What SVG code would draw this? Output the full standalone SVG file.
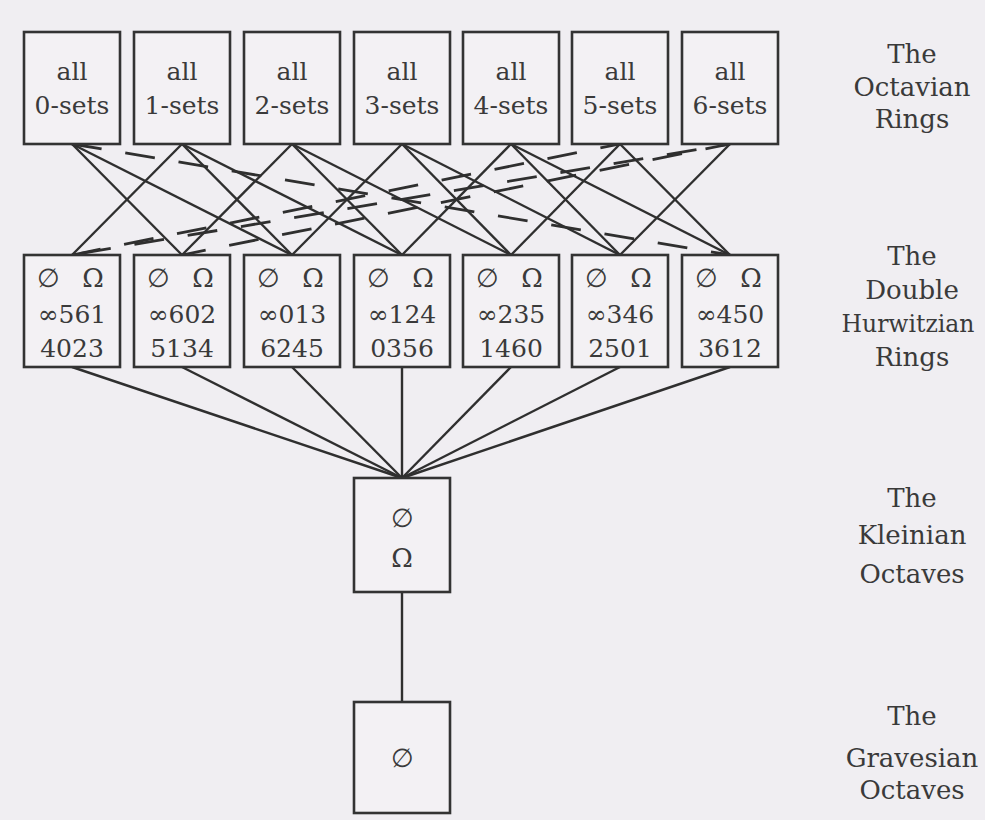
<svg xmlns="http://www.w3.org/2000/svg" width="985" height="820" viewBox="0 0 985 820" font-family="DejaVu Serif, serif">
<style>
.bg{fill:#f0eef2}
.box{fill:#f3f1f4;stroke:#333;stroke-width:2.6}
text{fill:#3a3a3a;text-anchor:middle}
.t{font-size:25px}
.sym{font-size:26px}
.lab{font-size:26px}
.e{stroke:#2f2f2f;stroke-width:2.4;fill:none}
.d{stroke:#2f2f2f;stroke-width:2.8;fill:none;stroke-dasharray:30 24}
</style>
<rect class="bg" x="0" y="0" width="985" height="820"/>
<g id="connectors">
<line class="e" x1="72" y1="144" x2="182" y2="255"/>
<line class="e" x1="72" y1="144" x2="292" y2="255"/>
<line class="e" x1="182" y1="144" x2="72" y2="255"/>
<line class="e" x1="182" y1="144" x2="292" y2="255"/>
<line class="e" x1="182" y1="144" x2="402" y2="255"/>
<line class="e" x1="292" y1="144" x2="182" y2="255"/>
<line class="e" x1="292" y1="144" x2="402" y2="255"/>
<line class="e" x1="292" y1="144" x2="511" y2="255"/>
<line class="e" x1="402" y1="144" x2="292" y2="255"/>
<line class="e" x1="402" y1="144" x2="511" y2="255"/>
<line class="e" x1="402" y1="144" x2="620" y2="255"/>
<line class="e" x1="511" y1="144" x2="402" y2="255"/>
<line class="e" x1="511" y1="144" x2="620" y2="255"/>
<line class="e" x1="511" y1="144" x2="730" y2="255"/>
<line class="e" x1="620" y1="144" x2="511" y2="255"/>
<line class="e" x1="620" y1="144" x2="730" y2="255"/>
<line class="e" x1="730" y1="144" x2="620" y2="255"/>
<line class="d" x1="72" y1="144" x2="730" y2="255"/>
<line class="d" x1="620" y1="144" x2="72" y2="255" stroke-dashoffset="10"/>
<line class="d" x1="730" y1="144" x2="72" y2="255" stroke-dashoffset="20"/>
<line class="d" x1="730" y1="144" x2="182" y2="255" stroke-dashoffset="5"/>
<line class="e" x1="72" y1="367" x2="402" y2="478"/>
<line class="e" x1="182" y1="367" x2="402" y2="478"/>
<line class="e" x1="292" y1="367" x2="402" y2="478"/>
<line class="e" x1="402" y1="367" x2="402" y2="478"/>
<line class="e" x1="511" y1="367" x2="402" y2="478"/>
<line class="e" x1="620" y1="367" x2="402" y2="478"/>
<line class="e" x1="730" y1="367" x2="402" y2="478"/>
<line class="e" x1="402" y1="592" x2="402" y2="702"/>
</g>
<g id="oct0"><rect class="box" x="24" y="32" width="96" height="112"/><text class="t" x="72" y="80">all</text><text class="t" x="72" y="114">0-sets</text></g>
<g id="oct1"><rect class="box" x="134" y="32" width="96" height="112"/><text class="t" x="182" y="80">all</text><text class="t" x="182" y="114">1-sets</text></g>
<g id="oct2"><rect class="box" x="244" y="32" width="96" height="112"/><text class="t" x="292" y="80">all</text><text class="t" x="292" y="114">2-sets</text></g>
<g id="oct3"><rect class="box" x="354" y="32" width="96" height="112"/><text class="t" x="402" y="80">all</text><text class="t" x="402" y="114">3-sets</text></g>
<g id="oct4"><rect class="box" x="463" y="32" width="96" height="112"/><text class="t" x="511" y="80">all</text><text class="t" x="511" y="114">4-sets</text></g>
<g id="oct5"><rect class="box" x="572" y="32" width="96" height="112"/><text class="t" x="620" y="80">all</text><text class="t" x="620" y="114">5-sets</text></g>
<g id="oct6"><rect class="box" x="682" y="32" width="96" height="112"/><text class="t" x="730" y="80">all</text><text class="t" x="730" y="114">6-sets</text></g>
<g id="hur0"><rect class="box" x="24" y="255" width="96" height="112"/><text class="sym" x="48" y="287">∅</text><text class="sym" x="93" y="287">Ω</text><text class="t" x="72" y="323">∞561</text><text class="t" x="72" y="357">4023</text></g>
<g id="hur1"><rect class="box" x="134" y="255" width="96" height="112"/><text class="sym" x="158" y="287">∅</text><text class="sym" x="203" y="287">Ω</text><text class="t" x="182" y="323">∞602</text><text class="t" x="182" y="357">5134</text></g>
<g id="hur2"><rect class="box" x="244" y="255" width="96" height="112"/><text class="sym" x="268" y="287">∅</text><text class="sym" x="313" y="287">Ω</text><text class="t" x="292" y="323">∞013</text><text class="t" x="292" y="357">6245</text></g>
<g id="hur3"><rect class="box" x="354" y="255" width="96" height="112"/><text class="sym" x="378" y="287">∅</text><text class="sym" x="423" y="287">Ω</text><text class="t" x="402" y="323">∞124</text><text class="t" x="402" y="357">0356</text></g>
<g id="hur4"><rect class="box" x="463" y="255" width="96" height="112"/><text class="sym" x="487" y="287">∅</text><text class="sym" x="532" y="287">Ω</text><text class="t" x="511" y="323">∞235</text><text class="t" x="511" y="357">1460</text></g>
<g id="hur5"><rect class="box" x="572" y="255" width="96" height="112"/><text class="sym" x="596" y="287">∅</text><text class="sym" x="641" y="287">Ω</text><text class="t" x="620" y="323">∞346</text><text class="t" x="620" y="357">2501</text></g>
<g id="hur6"><rect class="box" x="682" y="255" width="96" height="112"/><text class="sym" x="706" y="287">∅</text><text class="sym" x="751" y="287">Ω</text><text class="t" x="730" y="323">∞450</text><text class="t" x="730" y="357">3612</text></g>
<g id="klein"><rect class="box" x="354" y="478" width="96" height="114"/><text class="sym" x="402" y="527">∅</text><text class="sym" x="402" y="567">Ω</text></g>
<g id="graves"><rect class="box" x="354" y="702" width="96" height="111"/><text class="sym" x="402" y="767">∅</text></g>
<g id="labels">
<text class="lab" x="912" y="63">The</text><text class="lab" x="912" y="96">Octavian</text><text class="lab" x="912" y="128">Rings</text>
<text class="lab" x="912" y="265">The</text><text class="lab" x="912" y="299">Double</text><text class="lab" x="908" y="332" style="font-size:23.5px">Hurwitzian</text><text class="lab" x="912" y="366">Rings</text>
<text class="lab" x="912" y="507">The</text><text class="lab" x="912" y="544">Kleinian</text><text class="lab" x="912" y="583">Octaves</text>
<text class="lab" x="912" y="725">The</text><text class="lab" x="912" y="767">Gravesian</text><text class="lab" x="912" y="799">Octaves</text>
</g>
</svg>
